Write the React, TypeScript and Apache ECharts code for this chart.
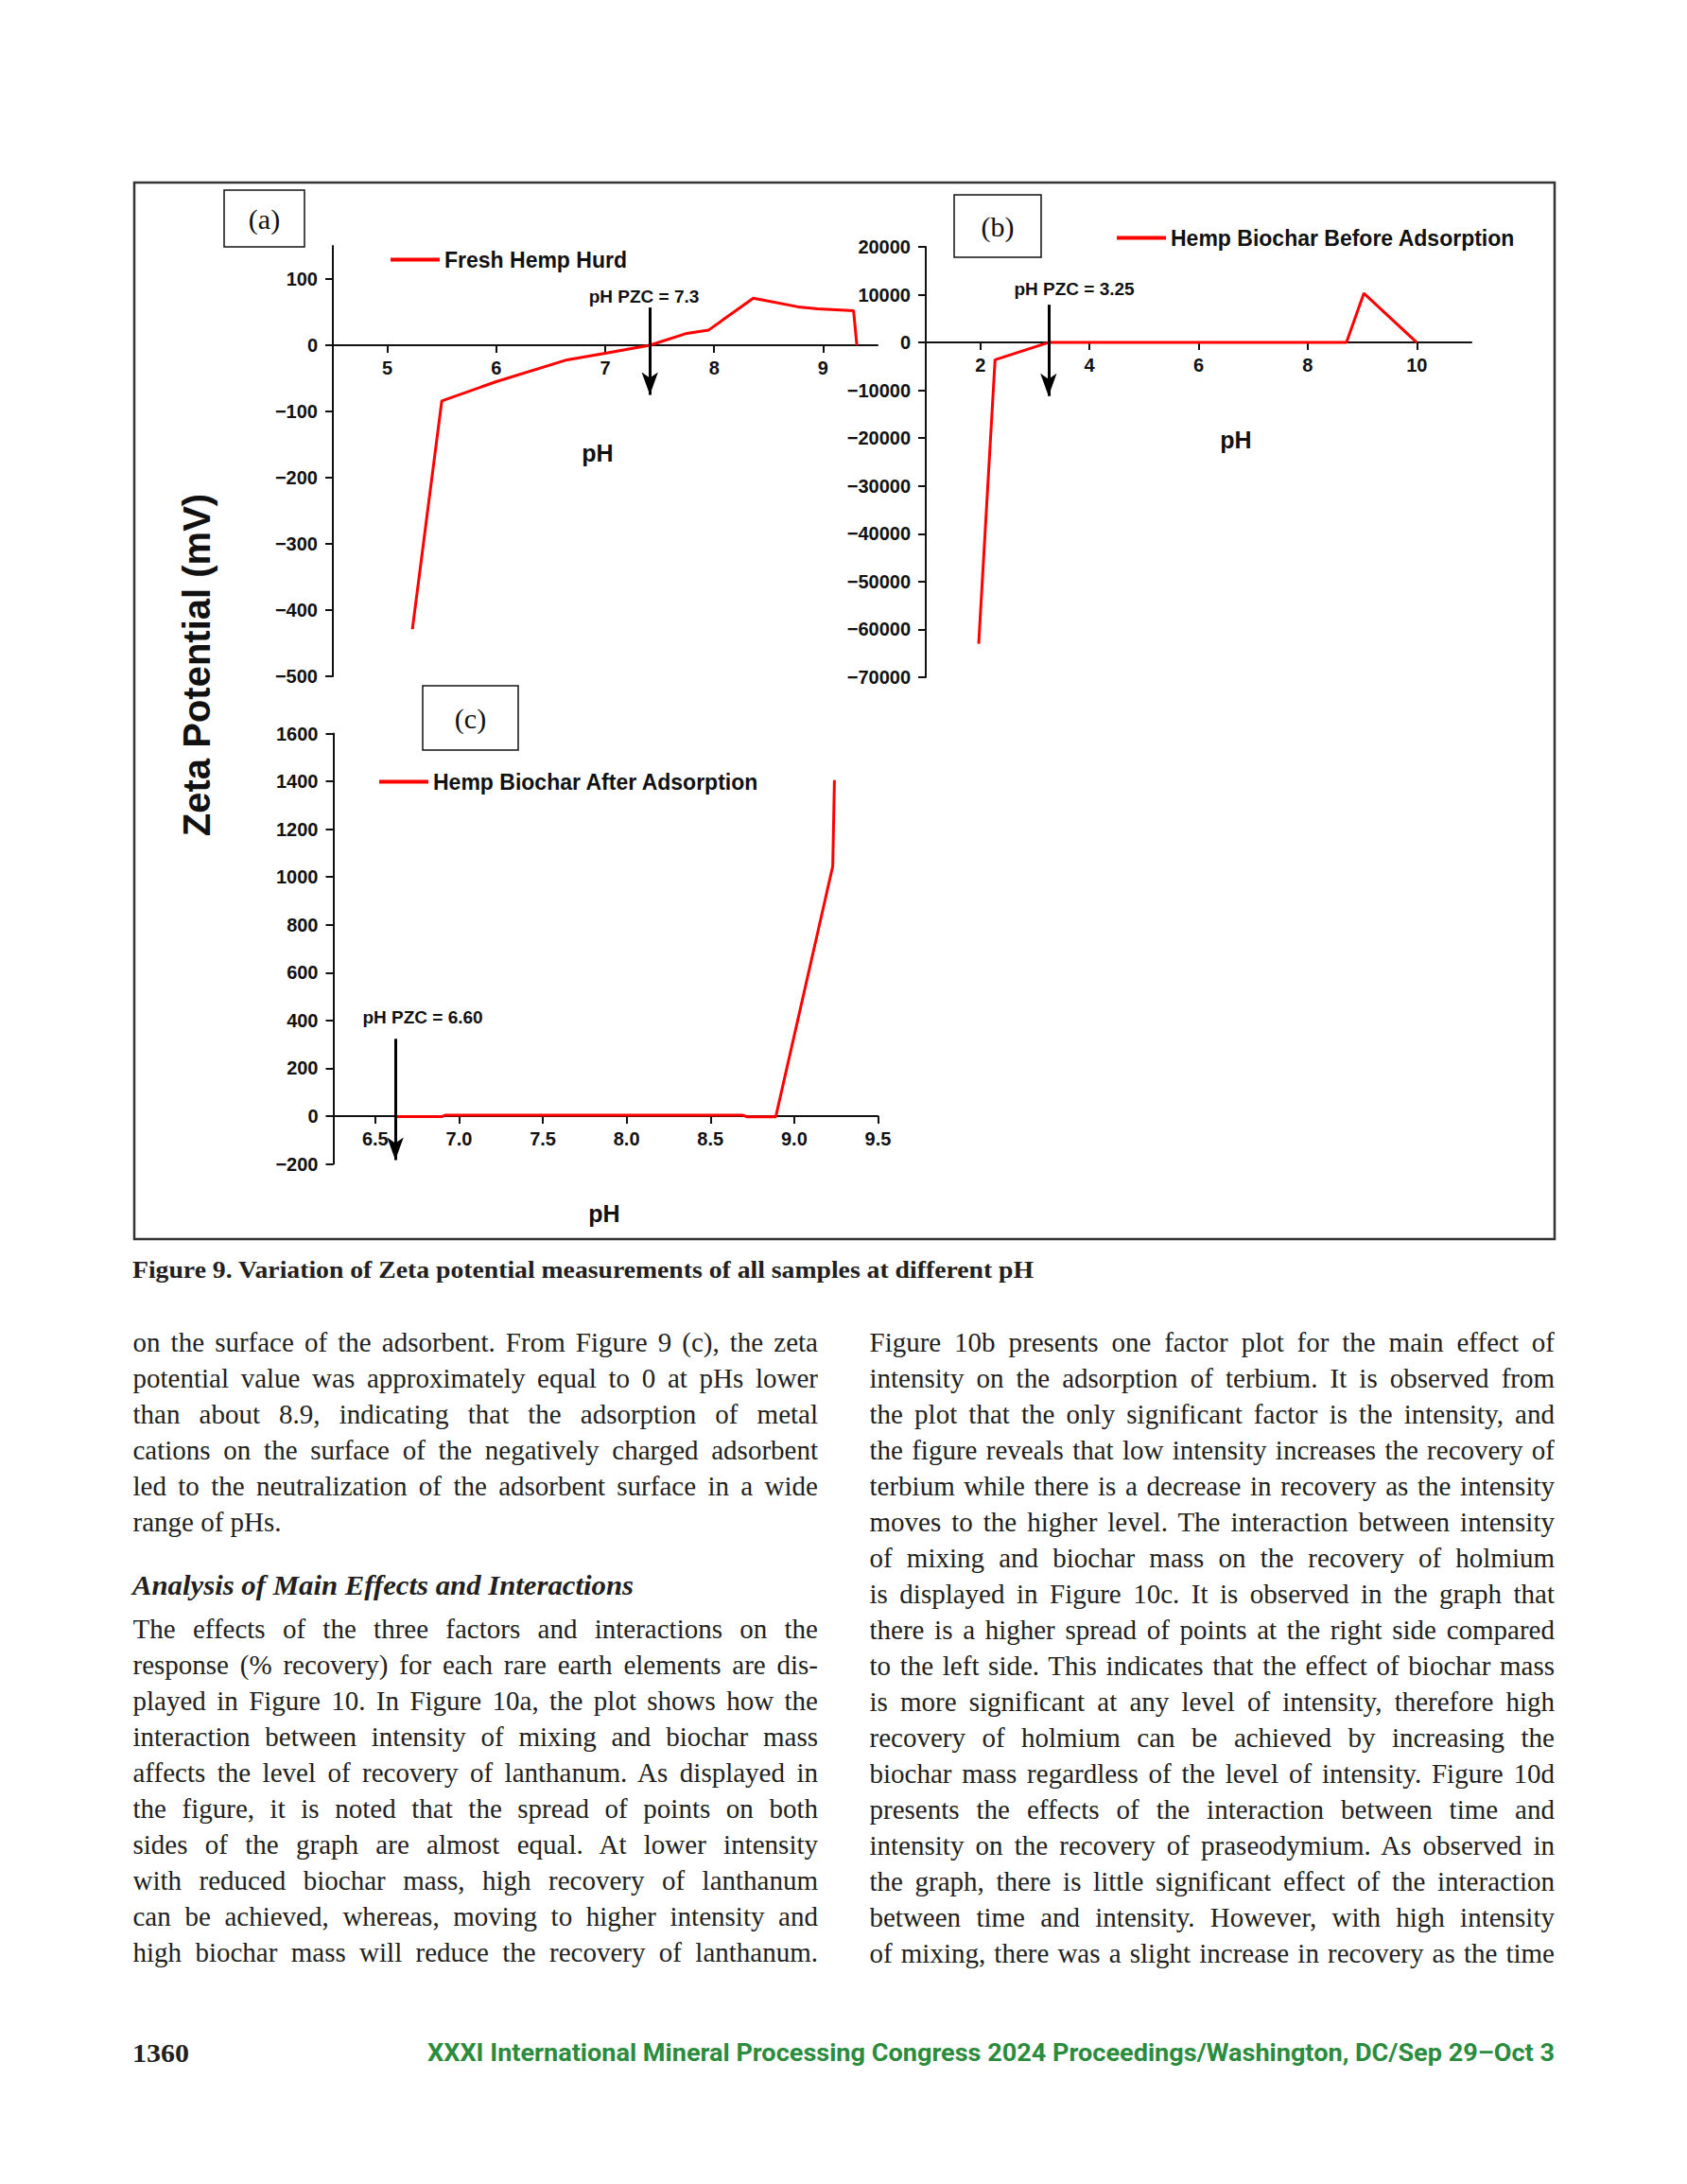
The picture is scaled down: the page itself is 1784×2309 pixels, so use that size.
import React, { useEffect, useRef } from 'react';
import * as echarts from 'echarts';

// ---------- data ----------
const phA = [5.23, 5.5, 6.0, 6.65, 7.0, 7.41, 7.75, 7.95, 8.36, 8.77, 8.95, 9.28, 9.31];
const zetaA = [-429, -84, -55, -22, -12, 0, 18, 23, 71, 58, 55, 52, 0];
const phB = [1.97, 2.27, 3.25, 8.71, 9.03, 10.0];
const zetaB = [-63000, -3600, 0, 0, 10300, 0];
const phC = [6.62, 6.9, 6.92, 8.69, 8.72, 8.89, 9.23, 9.24];
const zetaC = [-2, -2, 4, 4, -3, -3, 1045, 1405];

const xTicksA = [5, 6, 7, 8, 9];
const yTicksA = [-500, -400, -300, -200, -100, 0, 100];
const xTicksB = [2, 4, 6, 8, 10];
const yTicksB = [-70000, -60000, -50000, -40000, -30000, -20000, -10000, 0, 10000, 20000];
const xTicksC = [6.5, 7.0, 7.5, 8.0, 8.5, 9.0, 9.5];
const yTicksC = [-200, 0, 200, 400, 600, 800, 1000, 1200, 1400, 1600];

const xRange = [[4.5, 9.5], [1, 11], [6.25, 9.5]];
const yRange = [[-500, 150], [-70000, 20000], [-200, 1600]];

const seriesNames = ['Fresh Hemp Hurd', 'Hemp Biochar Before Adsorption', 'Hemp Biochar After Adsorption'];
const panelTags = ['(a)', '(b)', '(c)'];
const pzcLabels = ['pH PZC = 7.3', 'pH PZC = 3.25', 'pH PZC = 6.60'];
const pzcArrowX = [7.41, 3.25, 6.62];
const arrowFrom = [57, 7900, 323];
const arrowTo = [-75, -11200, -184];

const caption = 'Figure 9. Variation of Zeta potential measurements of all samples at different pH';
const heading = 'Analysis of Main Effects and Interactions';
const leftLines1 = [
  'on the surface of the adsorbent. From Figure 9 (c), the zeta',
  'potential value was approximately equal to 0 at pHs lower',
  'than about 8.9, indicating that the adsorption of metal',
  'cations on the surface of the negatively charged adsorbent',
  'led to the neutralization of the adsorbent surface in a wide',
  'range of pHs.',
];
const leftLines2 = [
  'The effects of the three factors and interactions on the',
  'response (% recovery) for each rare earth elements are dis-',
  'played in Figure 10. In Figure 10a, the plot shows how the',
  'interaction between intensity of mixing and biochar mass',
  'affects the level of recovery of lanthanum. As displayed in',
  'the figure, it is noted that the spread of points on both',
  'sides of the graph are almost equal. At lower intensity',
  'with reduced biochar mass, high recovery of lanthanum',
  'can be achieved, whereas, moving to higher intensity and',
  'high biochar mass will reduce the recovery of lanthanum.',
];
const rightLines = [
  'Figure 10b presents one factor plot for the main effect of',
  'intensity on the adsorption of terbium. It is observed from',
  'the plot that the only significant factor is the intensity, and',
  'the figure reveals that low intensity increases the recovery of',
  'terbium while there is a decrease in recovery as the intensity',
  'moves to the higher level. The interaction between intensity',
  'of mixing and biochar mass on the recovery of holmium',
  'is displayed in Figure 10c. It is observed in the graph that',
  'there is a higher spread of points at the right side compared',
  'to the left side. This indicates that the effect of biochar mass',
  'is more significant at any level of intensity, therefore high',
  'recovery of holmium can be achieved by increasing the',
  'biochar mass regardless of the level of intensity. Figure 10d',
  'presents the effects of the interaction between time and',
  'intensity on the recovery of praseodymium. As observed in',
  'the graph, there is little significant effect of the interaction',
  'between time and intensity. However, with high intensity',
  'of mixing, there was a slight increase in recovery as the time',
];
const pageNumber = '1360';
const footerText = 'XXXI International Mineral Processing Congress 2024 Proceedings/Washington, DC/Sep 29–Oct 3';

// ---------- layout ----------
const SANS = '"Liberation Sans", Arial, sans-serif';
const SERIF = '"Liberation Serif", "Times New Roman", serif';
const INK = '#111';
const grids = [
  { left: 352, top: 260, width: 576, height: 455 },
  { left: 979, top: 261, width: 577, height: 455 },
  { left: 352.5, top: 775.5, width: 576, height: 455 },
];
const legendPos = [
  { left: 413, top: 263 },
  { left: 1181, top: 240 },
  { left: 401, top: 815 },
];
const tagBoxes = [
  { x: 237, y: 201, w: 85, h: 60 },
  { x: 1009, y: 206, w: 92, h: 66 },
  { x: 447, y: 725, w: 101, h: 68 },
];
const pzcTextPos = [[681, 313], [1136, 305], [447, 1075]];
const phTitlePos = [[632, 479], [1307, 465], [639, 1283]];

const minus = (v: number, digits = 0) => {
  const s = Math.abs(v).toFixed(digits);
  return v < 0 ? '\u2212' + s : s;
};

function App() {
  const ref = useRef<HTMLDivElement>(null);

  useEffect(() => {
    if (!ref.current) return;
    const chart = echarts.init(ref.current, null, { renderer: 'svg' });
    const xs = [phA, phB, phC];
    const ys = [zetaA, zetaB, zetaC];
    const xTicks = [xTicksA, xTicksB, xTicksC];
    const yTicks = [yTicksA, yTicksB, yTicksC];

    const labelStyle = { color: INK, fontFamily: SANS, fontWeight: 'bold' as const, fontSize: 20 };

    const xAxis = [0, 1, 2].map((i) => {
      // put the x axis at y = 0 (shift up from the grid bottom by the share of the range below zero)
      const zeroShare = (0 - yRange[i][0]) / (yRange[i][1] - yRange[i][0]);
      return {
        type: 'value',
        gridIndex: i,
        position: 'bottom',
        offset: -grids[i].height * zeroShare,
        min: xRange[i][0],
        max: xRange[i][1],
        axisLine: { show: true, onZero: false, lineStyle: { color: INK, width: 2 } },
        axisTick: { show: true, length: 8, customValues: xTicks[i], lineStyle: { color: INK, width: 2 } },
        axisLabel: {
          ...labelStyle,
          margin: 14,
          customValues: xTicks[i],
          formatter: (v: number) => (i === 2 ? v.toFixed(1) : String(v)),
        },
        splitLine: { show: false },
      };
    });

    const yAxis = [0, 1, 2].map((i) => ({
      type: 'value',
      gridIndex: i,
      min: yRange[i][0],
      max: yRange[i][1],
      axisLine: { show: true, onZero: false, lineStyle: { color: INK, width: 2 } },
      axisTick: { show: true, length: 8, customValues: yTicks[i], lineStyle: { color: INK, width: 2 } },
      axisLabel: {
        ...labelStyle,
        margin: 16,
        customValues: yTicks[i],
        formatter: (v: number) => minus(v),
      },
      splitLine: { show: false },
    }));

    const series = [0, 1, 2].map((i) => ({
      name: seriesNames[i],
      type: 'line',
      xAxisIndex: i,
      yAxisIndex: i,
      data: xs[i].map((x, j) => [x, ys[i][j]]),
      showSymbol: false,
      symbol: 'none',
      lineStyle: { color: '#ff0000', width: 3 },
      itemStyle: { color: '#ff0000' },
      z: 3,
      markLine: {
        silent: true,
        symbol: ['none', 'arrow'],
        symbolSize: [13, 24],
        lineStyle: { color: '#000', width: 3, type: 'solid' },
        label: { show: false },
        emphasis: { disabled: true },
        data: [[{ coord: [pzcArrowX[i], arrowFrom[i]] }, { coord: [pzcArrowX[i], arrowTo[i]] }]],
      },
    }));

    const legend = [0, 1, 2].map((i) => ({
      data: [seriesNames[i]],
      left: legendPos[i].left,
      top: legendPos[i].top,
      padding: 0,
      icon: 'rect',
      itemWidth: 52,
      itemHeight: 4,
      selectedMode: false,
      textStyle: { color: INK, fontFamily: SANS, fontWeight: 'bold', fontSize: 23 },
    }));

    const graphic: any[] = [
      {
        type: 'rect',
        shape: { x: 142, y: 193, width: 1502, height: 1117 },
        style: { fill: 'none', stroke: '#333', lineWidth: 2.5 },
        z: 10,
      },
      {
        type: 'text',
        x: 208,
        y: 703,
        rotation: Math.PI / 2,
        style: {
          text: 'Zeta Potential (mV)',
          font: `bold 40px ${SANS}`,
          fill: INK,
          textAlign: 'center',
          textVerticalAlign: 'middle',
          align: 'center',
          verticalAlign: 'middle',
        },
      },
    ];
    for (let i = 0; i < 3; i++) {
      const b = tagBoxes[i];
      graphic.push({
        type: 'rect',
        shape: { x: b.x, y: b.y, width: b.w, height: b.h },
        style: { fill: '#fff', stroke: INK, lineWidth: 1.5 },
      });
      graphic.push({
        type: 'text',
        x: b.x + b.w / 2,
        y: b.y + b.h / 2,
        style: {
          text: panelTags[i],
          font: `30px ${SERIF}`,
          fill: INK,
          textAlign: 'center',
          textVerticalAlign: 'middle',
          align: 'center',
          verticalAlign: 'middle',
        },
      });
      graphic.push({
        type: 'text',
        x: pzcTextPos[i][0],
        y: pzcTextPos[i][1],
        style: {
          text: pzcLabels[i],
          font: `bold 19px ${SANS}`,
          fill: INK,
          textAlign: 'center',
          textVerticalAlign: 'middle',
          align: 'center',
          verticalAlign: 'middle',
        },
      });
      graphic.push({
        type: 'text',
        x: phTitlePos[i][0],
        y: phTitlePos[i][1],
        style: {
          text: 'pH',
          font: `bold 25px ${SANS}`,
          fill: INK,
          textAlign: 'center',
          textVerticalAlign: 'middle',
          align: 'center',
          verticalAlign: 'middle',
        },
      });
    }

    chart.setOption({
      animation: false,
      backgroundColor: '#fff',
      grid: grids.map((g) => ({ ...g, containLabel: false })),
      xAxis,
      yAxis,
      series,
      legend,
      graphic,
    } as any);

    return () => chart.dispose();
  }, []);

  const LINE_H = 38;
  const FS = 29;
  const BASE_OFF = 28.8;
  const lineStyle = (left: number, baseline: number, justify: boolean): React.CSSProperties => ({
    position: 'absolute',
    left,
    top: baseline - BASE_OFF,
    width: 724.5,
    height: LINE_H,
    lineHeight: `${LINE_H}px`,
    fontSize: FS,
    fontFamily: SERIF,
    color: '#231f20',
    textAlign: justify ? 'justify' : 'left',
    textAlignLast: justify ? 'justify' : 'left',
    overflow: 'hidden',
    margin: 0,
  });

  return (
    <div
      style={{
        position: 'absolute',
        left: 0,
        top: 0,
        width: 1784,
        height: 2309,
        background: '#fff',
        overflow: 'hidden',
      }}
    >
      <div ref={ref} style={{ position: 'absolute', left: 0, top: 0, width: 1784, height: 1320 }} />
      <svg
        width={1784}
        height={989}
        style={{ position: 'absolute', left: 0, top: 1320 }}
      >
        <text
          x={140}
          y={1351 - 1320}
          textLength={953}
          lengthAdjust="spacingAndGlyphs"
          style={{ font: `bold 26px ${SERIF}`, fill: '#231f20' }}
        >
          {caption}
        </text>
        <text
          x={140}
          y={1686 - 1320}
          textLength={530}
          lengthAdjust="spacingAndGlyphs"
          style={{ font: `italic bold 30px ${SERIF}`, fill: '#231f20' }}
        >
          {heading}
        </text>
        <text
          x={140}
          y={2180 - 1320}
          textLength={60}
          lengthAdjust="spacingAndGlyphs"
          style={{ font: `bold 27px ${SERIF}`, fill: '#231f20' }}
        >
          {pageNumber}
        </text>
        <text
          x={452}
          y={2179 - 1320}
          textLength={1192}
          lengthAdjust="spacingAndGlyphs"
          style={{ font: `bold 26px Roboto, ${SANS}`, fill: '#2a8c3c' }}
        >
          {footerText}
        </text>
      </svg>
      {leftLines1.map((t, k) => (
        <div key={'l1' + k} style={lineStyle(140.5, 1429 + LINE_H * k, k < leftLines1.length - 1)}>
          {t}
        </div>
      ))}
      {leftLines2.map((t, k) => (
        <div key={'l2' + k} style={lineStyle(140.5, 1732 + LINE_H * k, true)}>
          {t}
        </div>
      ))}
      {rightLines.map((t, k) => (
        <div key={'r' + k} style={lineStyle(919.5, 1429 + LINE_H * k, true)}>
          {t}
        </div>
      ))}
    </div>
  );
}

export default App;
